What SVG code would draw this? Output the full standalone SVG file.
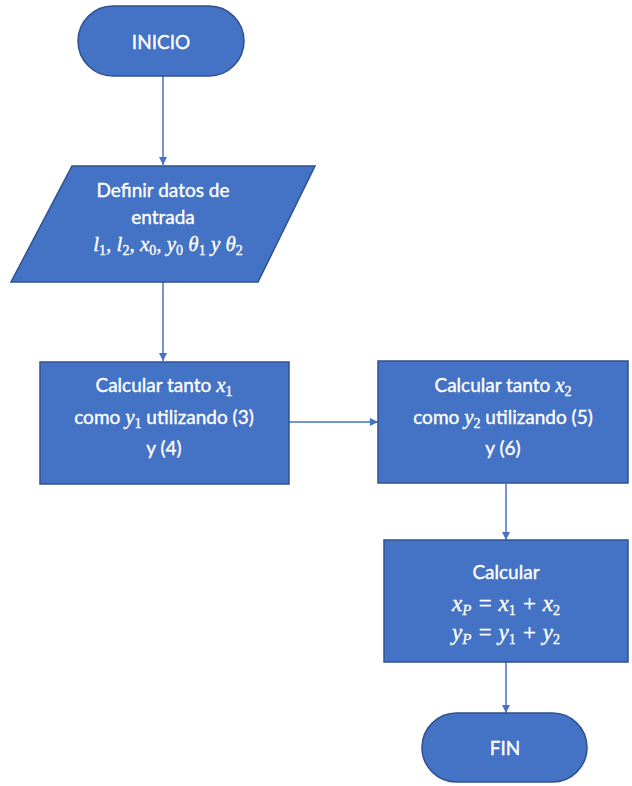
<svg xmlns="http://www.w3.org/2000/svg" width="632" height="786" viewBox="0 0 632 786">
<style>
.shape{fill:#4472C4;stroke:#2F528F;stroke-width:1.5}
.t{font-family:Lato,"Open Sans","Liberation Sans",sans-serif;font-size:19px;fill:#fff;stroke:#fff;stroke-width:0.35;text-anchor:middle}
.m{font-family:"Liberation Serif","DejaVu Serif",serif;font-style:italic;font-size:21px}
.sub{font-size:14px;font-style:normal}
.subi{font-size:15px}
.big{font-size:23px}
.c{stroke:#4472C4;stroke-width:1.5;fill:none;marker-end:url(#ah)}
</style>
<defs>
<marker id="ah" viewBox="0 0 10 10" refX="10" refY="5" markerWidth="8" markerHeight="8" markerUnits="userSpaceOnUse" orient="auto">
<path d="M0,0 L10,5 L0,10 z" fill="#4472C4"/>
</marker>
</defs>
<rect width="632" height="786" fill="#fff"/>
<g id="connectors">
<line class="c" x1="163" y1="76" x2="163" y2="165"/>
<line class="c" x1="163" y1="282" x2="163" y2="361"/>
<line class="c" x1="289" y1="422" x2="378" y2="422"/>
<line class="c" x1="506" y1="484" x2="506" y2="540"/>
<line class="c" x1="506" y1="662" x2="506" y2="713"/>
</g>
<g id="inicio">
<rect class="shape" x="78" y="6" width="166" height="70" rx="35"/>
<text class="t" x="161" y="49">INICIO</text>
</g>
<g id="datos">
<polygon class="shape" points="72,166 315,166 258,282 11,282"/>
<text class="t" x="163" y="197">Definir datos de</text>
<text class="t" x="163" y="224">entrada</text>
<text class="t m" x="168" y="251">l<tspan class="sub" dy="4">1</tspan><tspan dy="-4">, l</tspan><tspan class="sub" dy="4">2</tspan><tspan dy="-4">, x</tspan><tspan class="sub" dy="4">0</tspan><tspan dy="-4">, y</tspan><tspan class="sub" dy="4">0</tspan><tspan dy="-4"> θ</tspan><tspan class="sub" dy="4">1</tspan><tspan dy="-4"> y θ</tspan><tspan class="sub" dy="4">2</tspan></text>
</g>
<g id="calc1">
<rect class="shape" x="40" y="362" width="249" height="122"/>
<text class="t" x="164" y="392">Calcular tanto <tspan class="m">x</tspan><tspan class="m sub" dy="4">1</tspan></text>
<text class="t" x="164" y="424">como <tspan class="m">y</tspan><tspan class="m sub" dy="4">1</tspan><tspan dy="-4"> utilizando (3)</tspan></text>
<text class="t" x="164" y="455">y (4)</text>
</g>
<g id="calc2">
<rect class="shape" x="378" y="361" width="250" height="122"/>
<text class="t" x="503" y="392">Calcular tanto <tspan class="m">x</tspan><tspan class="m sub" dy="4">2</tspan></text>
<text class="t" x="503" y="424">como <tspan class="m">y</tspan><tspan class="m sub" dy="4">2</tspan><tspan dy="-4"> utilizando (5)</tspan></text>
<text class="t" x="503" y="455">y (6)</text>
</g>
<g id="calc3">
<rect class="shape" x="384" y="540" width="244" height="122"/>
<text class="t" x="506" y="579">Calcular</text>
<text class="t m big" x="506" y="611">x<tspan class="subi" dy="4">P</tspan><tspan dy="-4"> = x</tspan><tspan class="sub" dy="4">1</tspan><tspan dy="-4"> + x</tspan><tspan class="sub" dy="4">2</tspan></text>
<text class="t m big" x="506" y="640">y<tspan class="subi" dy="4">P</tspan><tspan dy="-4"> = y</tspan><tspan class="sub" dy="4">1</tspan><tspan dy="-4"> + y</tspan><tspan class="sub" dy="4">2</tspan></text>
</g>
<g id="fin">
<rect class="shape" x="422" y="713" width="165" height="69" rx="34.5"/>
<text class="t" x="505" y="755">FIN</text>
</g>
</svg>
